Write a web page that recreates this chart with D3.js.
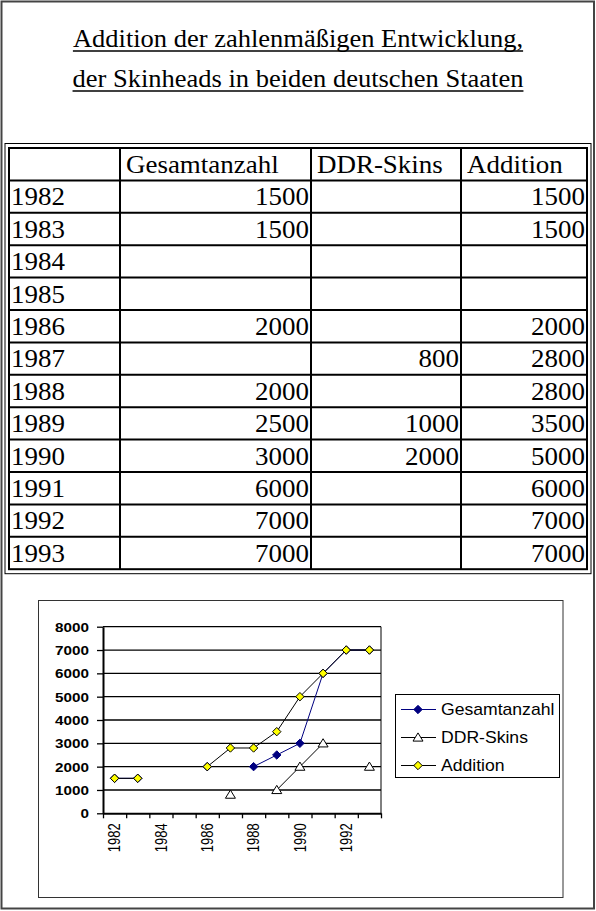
<!DOCTYPE html>
<html>
<head>
<meta charset="utf-8">
<script src="https://cdn.jsdelivr.net/npm/d3@7"></script>
<style>
  html, body { margin: 0; padding: 0; background: #fff; }
  svg { display: block; }
</style>
</head>
<body>
<svg id="svg" width="596" height="911"></svg>
<script>
const titleLines = ["Addition der zahlenmäßigen Entwicklung,", "der Skinheads in beiden deutschen Staaten"];
const columns = ["", "Gesamtanzahl", "DDR-Skins", "Addition"];
const years = ["1982", "1983", "1984", "1985", "1986", "1987", "1988", "1989", "1990", "1991", "1992", "1993"];
const gesamtanzahl = [1500, 1500, null, null, 2000, null, 2000, 2500, 3000, 6000, 7000, 7000];
const ddrSkins = [null, null, null, null, null, 800, null, 1000, 2000, null, null, null];
const addition = [1500, 1500, null, null, 2000, 2800, 2800, 3500, 5000, 6000, 7000, 7000];
// the chart's DDR series holds two points more than the table shows
const ddrSkinsChart = [null, null, null, null, null, 800, null, 1000, 2000, 3000, null, 2000];
const yTicks = [0, 1000, 2000, 3000, 4000, 5000, 6000, 7000, 8000];
const xLabels = ["1982", "1984", "1986", "1988", "1990", "1992"];

const svg = d3.select("svg");

// page frame
svg.append("rect")
    .attr("x", 1.5).attr("y", 1.5).attr("width", 592.5).attr("height", 907)
    .style("fill", "none").style("stroke", "#444").style("stroke-width", 2);

// title
const serif = "'Liberation Serif', 'Times New Roman', serif";
const titleStretch = 1.06;
titleLines.forEach(function (t, i) {
    const tx = svg.append("text")
        .attr("transform", "translate(298," + (47 + i * 40) + ") scale(" + titleStretch + ",1)")
        .attr("text-anchor", "middle")
        .style("font-family", serif)
        .style("font-size", "25px")
        .text(t);
    // underline drawn as a line, a bit heavier than the default decoration
    const w = tx.node().getComputedTextLength() * titleStretch;
    svg.append("line")
        .attr("x1", 298 - w / 2).attr("x2", 298 + w / 2)
        .attr("y1", 51 + i * 40).attr("y2", 51 + i * 40)
        .style("stroke", "#000").style("stroke-width", 1.6);
});

// ---------- table ----------
const colEdges = [9, 120, 311, 461, 587];
const tableTop = 148, rowH = 32.4;
const rowCount = years.length + 1;
const tableStretch = 1.1;
const tbl = svg.append("g");

// double outer border
tbl.append("rect")
    .attr("x", 5).attr("y", tableTop - 4.5)
    .attr("width", 586).attr("height", rowCount * rowH + 9)
    .style("fill", "none").style("stroke", "#000").style("stroke-width", 1);
tbl.append("rect")
    .attr("x", colEdges[0]).attr("y", tableTop)
    .attr("width", colEdges[4] - colEdges[0]).attr("height", rowCount * rowH)
    .style("fill", "none").style("stroke", "#000").style("stroke-width", 2);

d3.range(1, rowCount).forEach(function (r) {
    tbl.append("line")
        .attr("x1", colEdges[0]).attr("x2", colEdges[4])
        .attr("y1", tableTop + r * rowH).attr("y2", tableTop + r * rowH)
        .style("stroke", "#000").style("stroke-width", 2);
});
colEdges.slice(1, 4).forEach(function (x) {
    tbl.append("line")
        .attr("x1", x).attr("x2", x)
        .attr("y1", tableTop).attr("y2", tableTop + rowCount * rowH)
        .style("stroke", "#000").style("stroke-width", 2);
});

function cellText(x, y, txt, anchor) {
    tbl.append("text")
        .attr("transform", "translate(" + x + "," + y + ") scale(" + tableStretch + ",1)")
        .attr("text-anchor", anchor)
        .style("font-family", serif)
        .style("font-size", "24.5px")
        .text(txt);
}

columns.forEach(function (c, j) {
    if (c) cellText(colEdges[j] + 6, tableTop + 25, c, "start");
});
const tableCols = [gesamtanzahl, ddrSkins, addition];
years.forEach(function (yr, i) {
    const y = tableTop + (i + 1) * rowH + 25;
    cellText(colEdges[0] + 2, y, yr, "start");
    tableCols.forEach(function (col, j) {
        if (col[i] != null) cellText(colEdges[j + 2] - 2, y, String(col[i]), "end");
    });
});

// ---------- chart ----------
const sans = "Arial, 'Liberation Sans', sans-serif";
const axisStretch = 1.22;
const legendStretch = 1.1;

svg.append("rect")
    .attr("x", 38.5).attr("y", 600.5).attr("width", 524.5).attr("height", 297)
    .style("fill", "none").style("stroke", "#333").style("stroke-width", 1);

const plot = { left: 103, right: 381, top: 626.7, bottom: 813.3 };

const x = d3.scaleBand().domain(years).range([plot.left, plot.right]);
const xEdge = d3.scaleLinear().domain([0, years.length]).range([plot.left, plot.right]);
const y = d3.scaleLinear().domain([0, 8000]).range([plot.bottom, plot.top]);

// gridlines
svg.append("g").selectAll("line").data(yTicks.slice(1)).join("line")
    .attr("x1", plot.left).attr("x2", plot.right)
    .attr("y1", function (d) { return y(d); }).attr("y2", function (d) { return y(d); })
    .style("stroke", "#000").style("stroke-width", 1.3);

// plot right edge
svg.append("line")
    .attr("x1", plot.right).attr("x2", plot.right)
    .attr("y1", plot.top).attr("y2", plot.bottom)
    .style("stroke", "#000").style("stroke-width", 1);

// y axis
const yAxis = svg.append("g")
    .attr("transform", "translate(" + plot.left + ",0)")
    .call(d3.axisLeft(y).tickValues(yTicks).tickSize(6).tickSizeOuter(0).tickFormat(d3.format("d")));
yAxis.select(".domain").style("stroke", "#000").style("stroke-width", 2);
yAxis.selectAll(".tick line").style("stroke", "#000").style("stroke-width", 1.3);
yAxis.selectAll(".tick text")
    .attr("x", null).attr("dy", null)
    .attr("transform", "translate(-14,4.5) scale(" + axisStretch + ",1)")
    .style("font-family", sans).style("font-size", "12.5px").style("font-weight", "bold")
    .style("fill", "#000");

// x axis: tick marks sit between the categories
const xAxis = svg.append("g")
    .attr("transform", "translate(0," + plot.bottom + ")")
    .call(d3.axisBottom(xEdge).tickValues(d3.range(years.length + 1)).tickSize(5).tickSizeOuter(0).tickFormat(""));
xAxis.select(".domain").style("stroke", "#000").style("stroke-width", 2);
xAxis.selectAll(".tick line").style("stroke", "#000").style("stroke-width", 1.3);

// x labels on every second category
svg.append("g").selectAll("text").data(xLabels).join("text")
    .attr("transform", function (d) {
        return "translate(" + (x(d) + x.bandwidth() / 2) + "," + (plot.bottom + 10) + ") scale(" + axisStretch + ",1) rotate(-90)";
    })
    .attr("text-anchor", "end")
    .attr("dy", "0.36em")
    .style("font-family", sans).style("font-size", "13px")
    .text(function (d) { return d; });

const cx = function (i) { return x(years[i]) + x.bandwidth() / 2; };
const line = d3.line()
    .defined(function (d) { return d != null; })
    .x(function (d, i) { return cx(i); })
    .y(function (d) { return y(d); });

const diamond = "M0,-4.2L4.2,0L0,4.2L-4.2,0Z";
const triangle = "M0,-4.6L5,3.6L-5,3.6Z";

const series = [
    { name: "Gesamtanzahl", values: gesamtanzahl, stroke: "#000080", marker: diamond, fill: "#000080", mstroke: "#000080" },
    { name: "DDR-Skins", values: ddrSkinsChart, stroke: "#000", marker: triangle, fill: "#fff", mstroke: "#000" },
    { name: "Addition", values: addition, stroke: "#000", marker: diamond, fill: "#ffff00", mstroke: "#000" }
];

series.forEach(function (s) {
    const g = svg.append("g");
    g.append("path")
        .datum(s.values)
        .attr("d", line)
        .style("fill", "none").style("stroke", s.stroke).style("stroke-width", 1);
    g.selectAll("path.mark")
        .data(s.values.map(function (v, i) { return { v: v, i: i }; }).filter(function (d) { return d.v != null; }))
        .join("path")
        .attr("class", "mark")
        .attr("transform", function (d) { return "translate(" + cx(d.i) + "," + y(d.v) + ")"; })
        .attr("d", s.marker)
        .style("fill", s.fill).style("stroke", s.mstroke).style("stroke-width", 1);
});

// legend
const legend = svg.append("g");
legend.append("rect")
    .attr("x", 395.5).attr("y", 694.5).attr("width", 164).attr("height", 83)
    .style("fill", "#fff").style("stroke", "#000").style("stroke-width", 1);
series.forEach(function (s, i) {
    const ly = 709.5 + i * 28;
    legend.append("line")
        .attr("x1", 401).attr("x2", 436).attr("y1", ly).attr("y2", ly)
        .style("stroke", s.stroke).style("stroke-width", 1);
    legend.append("path")
        .attr("transform", "translate(418," + ly + ")")
        .attr("d", s.marker)
        .style("fill", s.fill).style("stroke", s.mstroke).style("stroke-width", 1);
    legend.append("text")
        .attr("transform", "translate(441," + (ly + 5.5) + ") scale(" + legendStretch + ",1)")
        .style("font-family", sans).style("font-size", "16px")
        .text(s.name);
});
</script>
</body>
</html>
